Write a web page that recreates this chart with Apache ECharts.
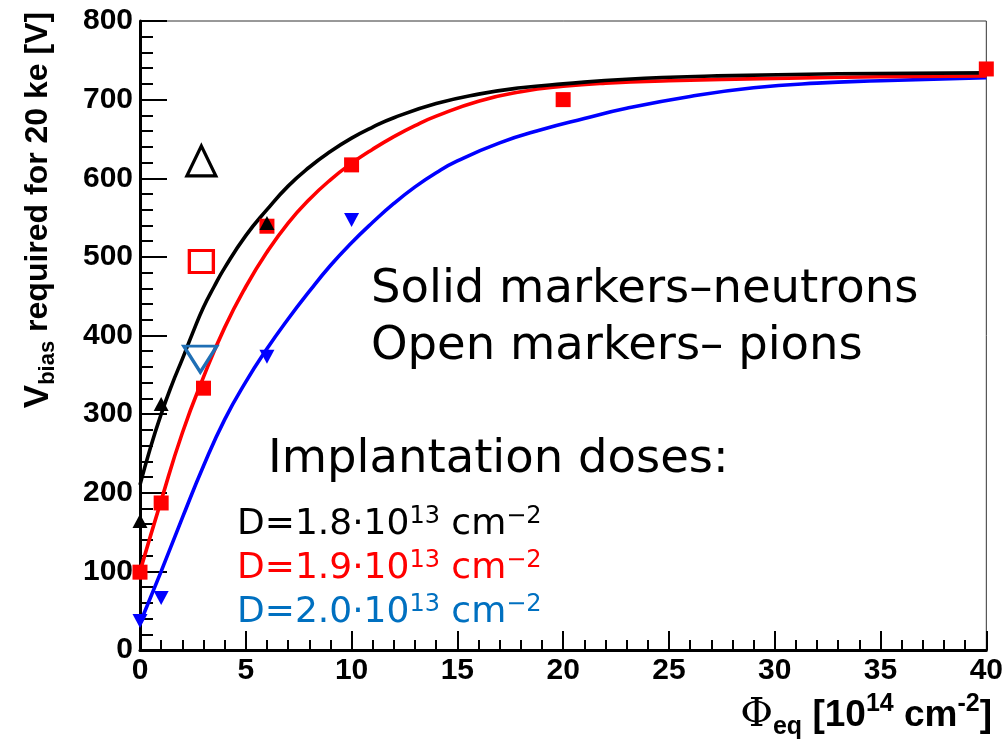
<!DOCTYPE html>
<html>
<head>
<meta charset="utf-8">
<script src="https://cdn.jsdelivr.net/npm/echarts@6/dist/echarts.min.js"></script>
<style>html,body{margin:0;padding:0;background:#fff}#c{width:1006px;height:744px}</style>
</head>
<body>
<div id="c"></div>
<script>
// ---- data ----
const xTicks = [0, 5, 10, 15, 20, 25, 30, 35, 40];
const yTicks = [0, 100, 200, 300, 400, 500, 600, 700, 800];

// neutron (solid) measurements
const neutronD18 = [[0, 164], [1, 313], [6, 543]];
const neutronD19 = [[0, 99], [1, 187], [3, 333], [6, 539], [10, 617], [20, 700], [40, 739]];
const neutronD20 = [[0, 37], [1, 66], [6, 373], [10, 547]];

// pion (open) measurements
const pionD18 = [[2.9, 622]];
const pionD19 = [[2.9, 494]];
const pionD20 = [[2.85, 370]];

// fit curves
const fitD18 = [[0, 210], [0.5, 258], [1, 300], [1.5, 337], [2, 370], [2.5, 404], [3, 436], [3.5, 462], [4, 486],
  [5, 527], [6, 560], [7, 590], [8, 614], [9, 634], [10, 651], [11, 665], [12, 677], [14, 695], [16, 707],
  [18, 715], [20, 720], [23, 726], [27, 730], [33, 733], [40, 734]];
const fitD19 = [[0, 100], [1, 190], [2, 276], [3, 347], [4, 410], [5, 462], [6, 506], [7, 543], [8, 573],
  [9, 598], [10, 619], [11, 637], [12, 653], [13, 667], [14, 679], [16, 698], [18, 710], [20, 717],
  [22, 721], [25, 724], [30, 727], [35, 729], [40, 730]];
const fitD20 = [[0, 34], [1, 100], [2, 168], [3, 234], [4, 293], [5, 341], [6, 383], [7, 421], [8, 456],
  [9, 489], [10, 518], [11, 544], [12, 568], [13, 589], [14, 607], [15, 622], [17, 645], [19, 662],
  [21, 676], [23, 689], [26, 704], [29, 715], [32, 721], [35, 724], [40, 728]];

const BLACK = '#000000', RED = '#ff0000', BLUE = '#0000ff', PIONBLUE = '#1f6fb5', TEXTBLUE = '#0070c0';
const DOWN = 'path://M0,0L20,0L10,20Z';

const chart = echarts.init(document.getElementById('c'), null, {renderer: 'canvas'});
const axisFont = {fontFamily: 'Liberation Sans', fontWeight: 'bold', fontSize: 30, color: '#000'};

function line(data, color) {
  return {type: 'line', data, smooth: 0.5, showSymbol: false, symbol: 'none',
    lineStyle: {color, width: 3.6}, z: 3, silent: true};
}
function scat(data, symbol, size, color, open) {
  return {type: 'scatter', data, symbol, symbolSize: size, z: open ? 5 : 4, silent: true,
    itemStyle: open ? {color: 'rgba(0,0,0,0)', borderColor: color, borderWidth: 3.2, opacity: 1}
                    : {color, opacity: 1}};
}

const annFont = 'DejaVu Sans';
function dline(y, color, val) {
  return {type: 'text', x: 237, y, z: 10,
    style: {text: '{a|D=' + val + '·10}{s|13}{a| cm}{s|−2}', fill: color, verticalAlign: 'middle', align: 'left',
      rich: {a: {fontFamily: annFont, fontSize: 36, fill: color, lineHeight: 38, verticalAlign: 'bottom'},
             s: {fontFamily: annFont, fontSize: 24, fill: color, lineHeight: 30, verticalAlign: 'top'}}}};
}

chart.setOption({
  animation: false,
  backgroundColor: '#fff',
  grid: {left: 140, right: 18, top: 21, bottom: 94, show: true, borderColor: '#333', borderWidth: 1},
  xAxis: {
    type: 'value', min: xTicks[0], max: xTicks[xTicks.length - 1], interval: 5,
    axisLine: {show: true, lineStyle: {color: '#000', width: 3}},
    axisTick: {inside: true, length: 19, lineStyle: {color: '#000', width: 2}},
    minorTick: {show: true, splitNumber: 5, length: 10, lineStyle: {color: '#000', width: 2}},
    splitLine: {show: false},
    axisLabel: Object.assign({margin: 6}, axisFont)
  },
  yAxis: {
    type: 'value', min: yTicks[0], max: yTicks[yTicks.length - 1], interval: 100,
    axisLine: {show: true, lineStyle: {color: '#000', width: 3}},
    axisTick: {inside: true, length: 27, lineStyle: {color: '#000', width: 2}},
    minorTick: {show: true, splitNumber: 5, length: 13, lineStyle: {color: '#000', width: 2}},
    splitLine: {show: false},
    axisLabel: Object.assign({margin: 7}, axisFont)
  },
  series: [
    line(fitD20, BLUE), line(fitD19, RED), line(fitD18, BLACK),
    scat(neutronD20, DOWN, [15, 14], BLUE, false),
    scat(neutronD19, 'rect', 15, RED, false),
    scat(neutronD18, 'triangle', [15, 14], BLACK, false),
    scat(pionD18, 'triangle', [29, 30], BLACK, true),
    scat(pionD19, 'rect', [24, 22], RED, true),
    scat(pionD20, DOWN, [33, 26], PIONBLUE, true)
  ],
  graphic: [
    {type: 'text', x: 38, y: 210, rotation: Math.PI / 2, z: 10,
      style: {text: '{v|V}{b|bias}{r| required for 20 ke [V]}', align: 'center', verticalAlign: 'middle',
        rich: {v: {fontFamily: 'Liberation Sans', fontWeight: 'bold', fontSize: 35, fill: '#000', lineHeight: 42, verticalAlign: 'middle'},
               b: {fontFamily: 'Liberation Sans', fontWeight: 'bold', fontSize: 22, fill: '#000', lineHeight: 42, verticalAlign: 'bottom'},
               r: {fontFamily: 'Liberation Sans', fontWeight: 'bold', fontSize: 32, fill: '#000', lineHeight: 42, verticalAlign: 'middle'}}}},
    {type: 'text', x: 992, y: 716, z: 10,
      style: {text: '{p|Φ}{e|eq}{r| [10}{s|14}{r| cm}{s|-2}{r|]}', align: 'right', verticalAlign: 'middle',
        rich: {p: {fontFamily: 'DejaVu Serif', fontSize: 40, fill: '#000', lineHeight: 48, verticalAlign: 'middle'},
               e: {fontFamily: 'Liberation Sans', fontWeight: 'bold', fontSize: 25, fill: '#000', lineHeight: 48, verticalAlign: 'bottom'},
               r: {fontFamily: 'Liberation Sans', fontWeight: 'bold', fontSize: 37, fill: '#000', lineHeight: 48, verticalAlign: 'middle'},
               s: {fontFamily: 'Liberation Sans', fontWeight: 'bold', fontSize: 25, fill: '#000', lineHeight: 48, verticalAlign: 'top'}}}},
    {type: 'text', x: 371, y: 290, z: 10,
      style: {text: 'Solid markers–neutrons', fontFamily: annFont, fontSize: 46.5, fill: '#000', align: 'left', verticalAlign: 'middle'}},
    {type: 'text', x: 371, y: 347, z: 10,
      style: {text: 'Open markers– pions', fontFamily: annFont, fontSize: 46.5, fill: '#000', align: 'left', verticalAlign: 'middle'}},
    {type: 'text', x: 268, y: 460, z: 10,
      style: {text: 'Implantation doses:', fontFamily: annFont, fontSize: 46.5, fill: '#000', align: 'left', verticalAlign: 'middle'}},
    dline(524, BLACK, '1.8'),
    dline(568, RED, '1.9'),
    dline(612, TEXTBLUE, '2.0')
  ]
});
</script>
</body>
</html>
